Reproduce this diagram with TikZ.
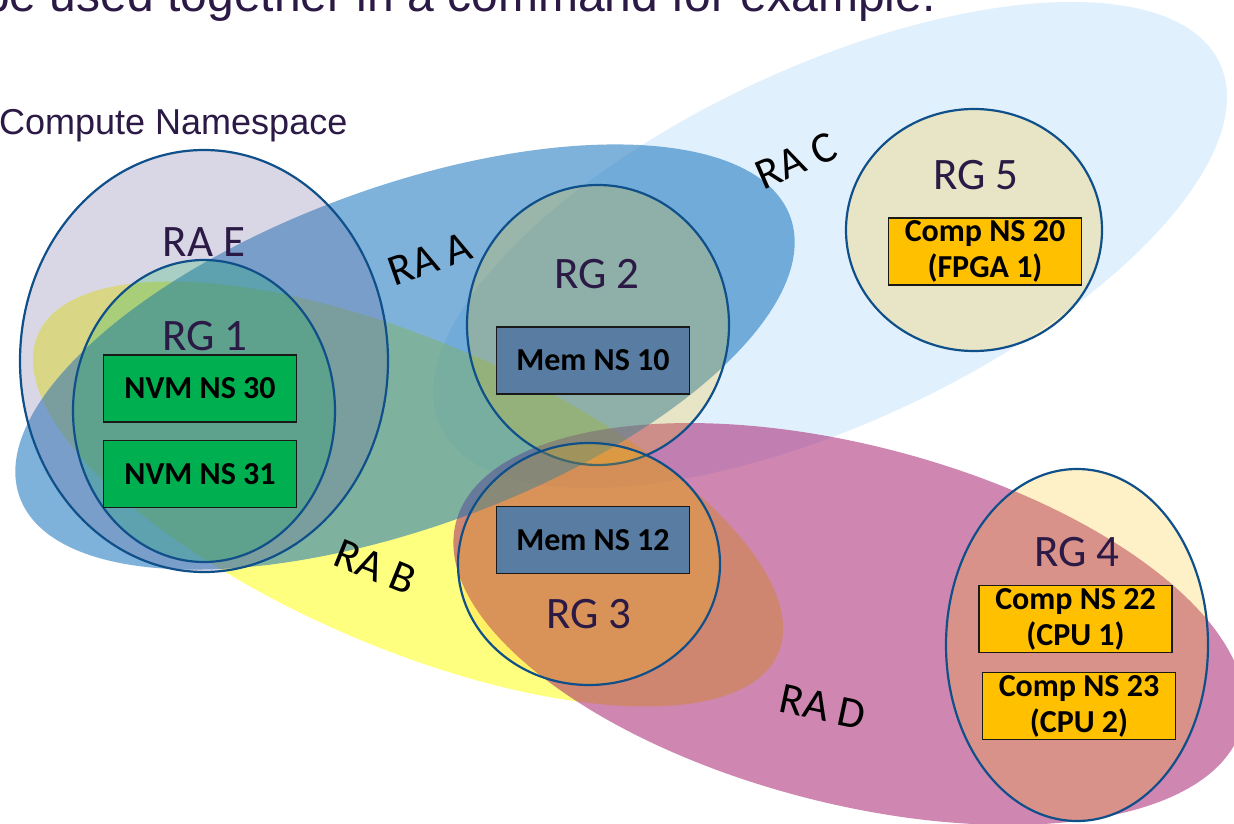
\documentclass[tikz,border=0pt]{standalone}
\usepackage{fontspec}
\setmainfont{Carlito}
\newfontfamily\arialf{Liberation Sans}
\definecolor{raC}{HTML}{E1F0FD}
\definecolor{raE}{RGB}{107,99,155}
\definecolor{raB}{HTML}{FFFF00}
\definecolor{raA}{RGB}{18,113,187}
\definecolor{raD}{RGB}{160,15,100}
\definecolor{rgfill}{HTML}{FFC000}
\definecolor{rgline}{HTML}{0F4F8A}
\definecolor{txt}{HTML}{2B1A45}
\definecolor{nvm}{HTML}{00B050}
\definecolor{mem}{HTML}{587CA2}
\definecolor{comp}{HTML}{FFC000}
\begin{document}
\begin{tikzpicture}[x=1pt,y=-1pt,
  rgring/.style={draw=rgline, line width=2.2pt, fill=#1, fill opacity=0.22},
  rgring/.default=rgfill,
  nsbox/.style={draw=black!90, line width=1.3pt, minimum width=193pt, minimum height=67pt,
    inner sep=0pt, align=center, text=black, font=\fontsize{32}{36}\selectfont\bfseries},
  grplabel/.style={text=txt, inner sep=0pt, anchor=base, font=\fontsize{45}{45}\selectfont},
  ralabel/.style={text=black, inner sep=0pt, font=\fontsize{44}{44}\selectfont}
]
\useasboundingbox (0,0) rectangle (1234,824);
\fill[white] (0,0) rectangle (1234,824);
\clip (0,0) rectangle (1234,824);

% resource areas
\fill[raC, rotate around={25:(830,245)}] (830,245) ellipse [x radius=430pt, y radius=178pt];
\fill[raB, fill opacity=0.5, rotate around={-23.3:(408,494)}] (408,494) ellipse [x radius=403pt, y radius=153pt];
\fill[raD, fill opacity=0.5, rotate around={-14.5:(849,624)}] (849,624) ellipse [x radius=406pt, y radius=179pt];
\fill[raA, fill opacity=0.54, rotate around={20:(405,357)}] (405,357) ellipse [x radius=410pt, y radius=170pt];
\fill[raE, fill opacity=0.25] (204,361) ellipse [x radius=184pt, y radius=211pt];
\draw[rgline, line width=2.2pt] (204,361) ellipse [x radius=184pt, y radius=211pt];

% resource groups
\path[rgring=nvm] (204,411) ellipse [x radius=131pt, y radius=151pt];
\path[rgring] (598,325) ellipse [x radius=131pt, y radius=140pt];
\path[rgring] (589,564) ellipse [x radius=131pt, y radius=121pt];
\path[rgring] (1077,645) ellipse [x radius=131pt, y radius=176pt];
\path[rgring] (974,230) ellipse [x radius=128pt, y radius=121pt];

% namespaces
\node[nsbox, fill=nvm] (nvm30) at (200,388.5) {NVM NS 30};
\node[nsbox, fill=nvm] (nvm31) at (200,474) {NVM NS 31};
\node[nsbox, fill=mem] (mem10) at (593,360.5) {Mem NS 10};
\node[nsbox, fill=mem] (mem12) at (593,540) {Mem NS 12};
\node[nsbox, fill=comp] (comp20) at (985,251.5) {Comp NS 20\\(FPGA 1)};
\node[nsbox, fill=comp] (comp22) at (1075.5,619) {Comp NS 22\\(CPU 1)};
\node[nsbox, fill=comp] (comp23) at (1079,706) {Comp NS 23\\(CPU 2)};

% labels
\node[grplabel] (lraE) at (204,256) {RA E};
\node[grplabel] (lrg1) at (205,350) {RG 1};
\node[grplabel] (lrg2) at (597,288) {RG 2};
\node[grplabel] (lrg3) at (589,628) {RG 3};
\node[grplabel] (lrg4) at (1077,566) {RG 4};
\node[grplabel] (lrg5) at (976,189) {RG 5};

\node[ralabel, rotate=19.5] (lraA) at (430,259) {RA A};
\node[ralabel, rotate=-22] (lraB) at (375,567) {RA B};
\node[ralabel, rotate=23.5] (lraC) at (796,161) {RA C};
\node[ralabel, rotate=-12] (lraD) at (823,707) {RA D};

% slide text
\node[text=txt, inner sep=0pt, anchor=base east, font=\arialf\fontsize{48}{48}\selectfont] (title) at (936,12) {be used together in a command for example.};
\node[text=txt, inner sep=0pt, anchor=base west, font=\arialf\fontsize{36}{36}\selectfont] (cns) at (-1,135) {Compute Namespace};
\end{tikzpicture}
\end{document}
